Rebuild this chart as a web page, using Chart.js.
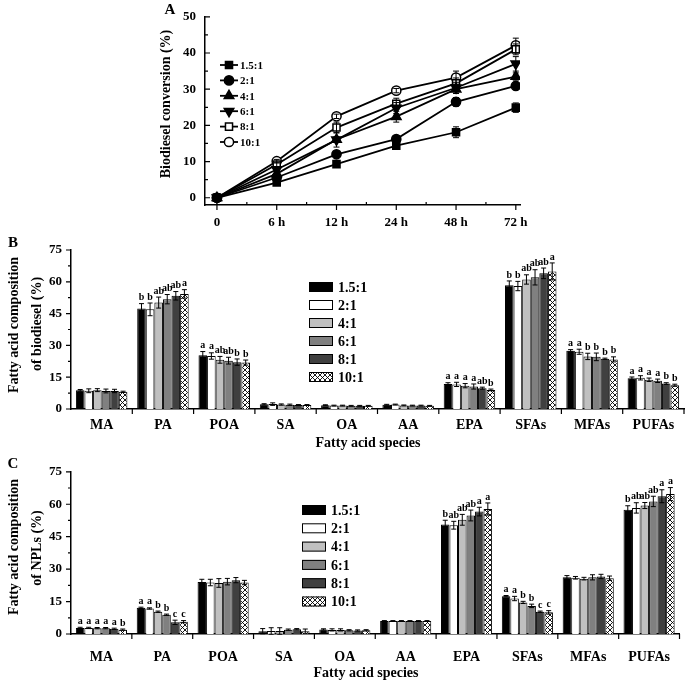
<!DOCTYPE html>
<html>
<head>
<meta charset="utf-8">
<script src="https://cdn.jsdelivr.net/npm/chart.js@4.4.0/dist/chart.umd.min.js"></script>
<style>
  html, body { margin: 0; padding: 0; background: #fff; }
  #wrap { position: relative; width: 685px; height: 680px; }
  canvas { position: absolute; left: 0; }
</style>
</head>
<body>
<div id="wrap">
  <canvas id="chartA" width="685" height="235" style="top:0px"></canvas>
  <canvas id="chartB" width="685" height="230" style="top:225px"></canvas>
  <canvas id="chartC" width="685" height="225" style="top:455px"></canvas>
</div>
<script>
// molar ratios (series)
const ratios = ['1.5:1', '2:1', '4:1', '6:1', '8:1', '10:1'];

// ---- panel A: biodiesel conversion (%) vs time ----
const times = ['0', '6 h', '12 h', '24 h', '48 h', '72 h'];
const convR15 = [0, 4.2, 9.3, 14.4, 18.1, 24.9];
const convR2 = [0, 5.6, 12.0, 16.2, 26.5, 30.9];
const convR4 = [0, 6.6, 16.1, 22.4, 30.0, 33.5];
const convR6 = [0, 7.8, 16.0, 24.8, 30.4, 37.0];
const convR8 = [0, 9.2, 19.4, 26.0, 31.6, 41.0];
const convR10 = [0, 10.1, 22.5, 29.6, 33.2, 42.1];
const convErrR15 = [0, 0.3, 0.5, 0.8, 1.5, 1.3];
const convErrR2 = [0, 0.5, 0.6, 0.8, 1.2, 1.0];
const convErrR4 = [0, 0.6, 0.8, 1.5, 1.2, 1.0];
const convErrR6 = [0, 0.5, 2.0, 1.5, 1.5, 2.0];
const convErrR8 = [0, 0.6, 1.5, 1.5, 1.5, 1.5];
const convErrR10 = [0, 0.5, 0.6, 0.6, 1.8, 2.0];
const convTicks = [0, 10, 20, 30, 40, 50];
const convMinorTicks = [5, 15, 25, 35, 45];
const timeMinorTicks = [0.5, 1.5, 2.5, 3.5, 4.5];

// ---- panels B and C: fatty acid composition (%) ----
const species = ['MA', 'PA', 'POA', 'SA', 'OA', 'AA', 'EPA', 'SFAs', 'MFAs', 'PUFAs'];

const bioR15 = [8.8, 47.4, 25.3, 2.2, 1.8, 2.0, 11.8, 58.4, 27.5, 14.5];
const bioR2 = [8.6, 47.0, 25.0, 2.3, 1.6, 2.1, 11.6, 58.0, 27.0, 14.7];
const bioR4 = [8.9, 50.2, 23.2, 2.1, 1.6, 1.7, 11.0, 61.1, 24.8, 13.8];
const bioR6 = [8.5, 51.8, 22.8, 2.0, 1.5, 1.6, 10.6, 62.1, 24.6, 13.3];
const bioR8 = [8.5, 53.4, 22.1, 1.9, 1.5, 1.6, 9.8, 64.0, 23.7, 12.0];
const bioR10 = [8.1, 54.3, 21.9, 1.9, 1.5, 1.5, 9.0, 64.9, 23.4, 11.2];
const bioErrR15 = [0.4, 2.3, 1.8, 0.3, 0.2, 0.2, 0.6, 2.0, 0.5, 0.6];
const bioErrR2 = [0.9, 3.0, 1.5, 0.6, 0.2, 0.2, 1.0, 2.2, 1.2, 1.0];
const bioErrR4 = [0.7, 2.6, 1.6, 0.3, 0.2, 0.2, 1.0, 2.2, 1.5, 0.8];
const bioErrR6 = [0.9, 2.2, 1.6, 0.3, 0.2, 0.2, 1.2, 3.6, 1.8, 0.8];
const bioErrR8 = [0.8, 2.0, 1.5, 0.2, 0.2, 0.2, 0.5, 2.5, 0.3, 0.4];
const bioErrR10 = [0.3, 2.0, 1.2, 0.2, 0.2, 0.2, 0.4, 4.0, 1.2, 0.5];
const bioSigR15 = ['', 'b', 'a', '', '', '', 'a', 'b', 'a', 'a'];
const bioSigR2 = ['', 'b', 'a', '', '', '', 'a', 'b', 'a', 'a'];
const bioSigR4 = ['', 'ab', 'ab', '', '', '', 'a', 'ab', 'b', 'a'];
const bioSigR6 = ['', 'ab', 'ab', '', '', '', 'a', 'ab', 'b', 'a'];
const bioSigR8 = ['', 'ab', 'b', '', '', '', 'ab', 'ab', 'b', 'b'];
const bioSigR10 = ['', 'a', 'b', '', '', '', 'b', 'a', 'b', 'b'];

const nplR15 = [2.8, 12.1, 24.1, 1.3, 2.1, 6.0, 50.6, 17.5, 26.2, 57.5];
const nplR2 = [2.8, 11.8, 23.8, 1.4, 1.9, 6.0, 50.3, 16.4, 26.0, 58.3];
const nplR4 = [2.7, 10.3, 23.6, 1.4, 1.9, 6.0, 52.8, 14.6, 25.6, 59.4];
const nplR6 = [2.7, 8.9, 24.2, 2.0, 1.7, 6.0, 54.8, 13.0, 26.2, 61.3];
const nplR8 = [2.4, 5.4, 24.9, 2.2, 1.6, 6.0, 56.6, 10.3, 26.6, 63.7];
const nplR10 = [2.0, 5.7, 23.8, 1.3, 1.7, 6.0, 57.8, 10.0, 25.8, 64.7];
const nplErrR15 = [0.3, 0.3, 1.2, 1.2, 0.3, 0.2, 2.0, 0.3, 0.8, 1.8];
const nplErrR2 = [0.3, 0.3, 1.5, 1.5, 0.5, 0.2, 1.8, 1.0, 0.6, 2.4];
const nplErrR4 = [0.3, 0.3, 2.0, 1.5, 0.5, 0.2, 2.5, 0.5, 0.6, 1.4];
const nplErrR6 = [0.3, 0.3, 1.5, 0.3, 0.3, 0.2, 2.5, 0.8, 1.2, 2.4];
const nplErrR8 = [0.3, 1.0, 1.2, 0.3, 0.3, 0.2, 2.0, 0.3, 1.0, 3.0];
const nplErrR10 = [0.3, 0.5, 1.0, 1.0, 0.3, 0.2, 2.8, 0.8, 1.0, 3.0];
const nplSigR15 = ['a', 'a', '', '', '', '', 'b', 'a', '', 'b'];
const nplSigR2 = ['a', 'a', '', '', '', '', 'ab', 'a', '', 'ab'];
const nplSigR4 = ['a', 'b', '', '', '', '', 'ab', 'b', '', 'ab'];
const nplSigR6 = ['a', 'b', '', '', '', '', 'ab', 'b', '', 'ab'];
const nplSigR8 = ['a', 'c', '', '', '', '', 'a', 'c', '', 'a'];
const nplSigR10 = ['b', 'c', '', '', '', '', 'a', 'c', '', 'a'];

const compTicks = [0, 15, 30, 45, 60, 75];
const compMinorTicks = [7.5, 22.5, 37.5, 52.5, 67.5];

// ---- styling ----
const serif = '"Liberation Serif", "Times New Roman", serif';
const bold = (size) => ({ family: serif, size: size, weight: 'bold' });

function crossHatch() {
  const c = document.createElement('canvas');
  c.width = 5; c.height = 5;
  const g = c.getContext('2d');
  g.fillStyle = '#fff';
  g.fillRect(0, 0, 5, 5);
  g.strokeStyle = '#000';
  g.lineWidth = 0.9;
  g.beginPath();
  g.moveTo(-1, -1); g.lineTo(6, 6);
  g.moveTo(6, -1); g.lineTo(-1, 6);
  g.stroke();
  return g.createPattern(c, 'repeat');
}
const barFills = ['#000000', '#ffffff', '#c0c0c0', '#808080', '#404040', crossHatch()];

// ---- plugins ----
const errorBars = {
  id: 'errorBars',
  afterDatasetsDraw(chart, args, o) {
    const ctx = chart.ctx, y = chart.scales.y;
    ctx.save();
    ctx.strokeStyle = '#000';
    ctx.lineWidth = 1;
    chart.data.datasets.forEach((ds, i) => {
      const meta = chart.getDatasetMeta(i);
      meta.data.forEach((el, j) => {
        const raw = ds.data[j];
        const v = typeof raw === 'object' ? raw.y : raw;
        const e = ds.errors ? ds.errors[j] : 0;
        const top = y.getPixelForValue(v + e);
        if (e > 0) {
          const bot = y.getPixelForValue(v - e);
          ctx.beginPath();
          ctx.moveTo(el.x, top); ctx.lineTo(el.x, bot);
          ctx.moveTo(el.x - o.cap, top); ctx.lineTo(el.x + o.cap, top);
          ctx.moveTo(el.x - o.cap, bot); ctx.lineTo(el.x + o.cap, bot);
          ctx.stroke();
        }
        if (ds.sig && ds.sig[j]) {
          ctx.fillStyle = '#000';
          ctx.font = 'bold 10px ' + serif;
          ctx.textAlign = 'center';
          ctx.textBaseline = 'bottom';
          ctx.fillText(ds.sig[j], el.x, top - 1);
        }
      });
    });
    ctx.restore();
  }
};

const axisTicks = {
  id: 'axisTicks',
  afterDraw(chart, args, o) {
    const { ctx, chartArea: a, scales: { x, y } } = chart;
    ctx.save();
    ctx.strokeStyle = '#000';
    ctx.lineWidth = 1.2;
    ctx.beginPath();
    o.yMajor.forEach(v => { const p = y.getPixelForValue(v); ctx.moveTo(a.left, p); ctx.lineTo(a.left + o.yDir * 5, p); });
    o.yMinor.forEach(v => { const p = y.getPixelForValue(v); ctx.moveTo(a.left, p); ctx.lineTo(a.left + o.yDir * 3, p); });
    let xs = [], xm = [];
    if (o.categoryBounds) {
      const n = chart.data.labels.length;
      const w = (a.right - a.left) / n;
      for (let i = 1; i <= n; i++) xs.push(a.left + i * w);
    } else {
      xs = o.xMajor.map(v => x.getPixelForValue(v));
      xm = o.xMinor.map(v => x.getPixelForValue(v));
    }
    xs.forEach(p => { ctx.moveTo(p, a.bottom); ctx.lineTo(p, a.bottom + o.xDir * 5); });
    xm.forEach(p => { ctx.moveTo(p, a.bottom); ctx.lineTo(p, a.bottom - o.xDir * 3); });
    ctx.stroke();
    ctx.restore();
  }
};

const boxLegend = {
  id: 'boxLegend',
  afterDraw(chart, args, o) {
    const ctx = chart.ctx;
    ctx.save();
    chart.data.datasets.forEach((ds, i) => {
      const cy = o.y + i * o.dy;
      ctx.fillStyle = ds.backgroundColor;
      ctx.fillRect(o.x, cy - o.h / 2, o.w, o.h);
      ctx.strokeStyle = '#000';
      ctx.lineWidth = 1;
      ctx.strokeRect(o.x + 0.5, cy - o.h / 2 + 0.5, o.w - 1, o.h - 1);
      ctx.fillStyle = '#000';
      ctx.font = 'bold 14px ' + serif;
      ctx.textAlign = 'left';
      ctx.textBaseline = 'middle';
      ctx.fillText(ds.label, o.x + o.w + 5, cy + 1);
    });
    ctx.restore();
  }
};

const lineLegend = {
  id: 'lineLegend',
  afterDraw(chart, args, o) {
    const ctx = chart.ctx;
    ctx.save();
    chart.data.datasets.forEach((ds, i) => {
      const cy = o.y + i * o.dy;
      ctx.strokeStyle = '#000';
      ctx.lineWidth = 1.8;
      ctx.beginPath();
      ctx.moveTo(o.x, cy); ctx.lineTo(o.x + o.w, cy);
      ctx.stroke();
      ctx.fillStyle = ds.pointBackgroundColor;
      ctx.lineWidth = 1.5;
      Chart.helpers.drawPoint(ctx, {
        pointStyle: ds.pointStyle, rotation: ds.pointRotation || 0,
        radius: ds.pointRadius, borderWidth: 1.5
      }, o.x + o.w / 2, cy);
      ctx.fillStyle = '#000';
      ctx.font = 'bold 11px ' + serif;
      ctx.textAlign = 'left';
      ctx.textBaseline = 'middle';
      ctx.fillText(ds.label, o.x + o.w + 2, cy + 1);
    });
    ctx.restore();
  }
};

const texts = {
  id: 'texts',
  afterDraw(chart, args, o) {
    const ctx = chart.ctx;
    ctx.save();
    ctx.fillStyle = '#000';
    ctx.textAlign = 'center';
    ctx.textBaseline = 'middle';
    o.items.forEach(t => {
      ctx.save();
      ctx.translate(t.x, t.y);
      if (t.rot) ctx.rotate(-Math.PI / 2);
      ctx.font = 'bold ' + t.size + 'px ' + serif;
      ctx.fillText(t.text, 0, 0);
      ctx.restore();
    });
    ctx.restore();
  }
};

// ---- panel A ----
const convSeries = [convR15, convR2, convR4, convR6, convR8, convR10];
const convErrs = [convErrR15, convErrR2, convErrR4, convErrR6, convErrR8, convErrR10];
const markers = [
  { style: 'rect', fill: '#000', r: 5, rot: 0 },
  { style: 'circle', fill: '#000', r: 4.6, rot: 0 },
  { style: 'triangle', fill: '#000', r: 5.5, rot: 0 },
  { style: 'triangle', fill: '#000', r: 5.5, rot: 180 },
  { style: 'rect', fill: '#fff', r: 5, rot: 0 },
  { style: 'circle', fill: '#fff', r: 4.6, rot: 0 }
];

new Chart(document.getElementById('chartA'), {
  type: 'line',
  data: {
    datasets: convSeries.map((s, i) => ({
      label: ratios[i],
      data: s.map((v, k) => ({ x: k, y: v })),
      errors: convErrs[i],
      borderColor: '#000',
      borderWidth: 1.8,
      pointStyle: markers[i].style,
      pointRotation: markers[i].rot,
      pointRadius: markers[i].r,
      pointBackgroundColor: markers[i].fill,
      pointBorderColor: '#000',
      pointBorderWidth: 1.5,
      tension: 0
    }))
  },
  options: {
    responsive: false,
    animation: false,
    layout: { padding: { left: 0, top: 13, right: 165, bottom: 0 } },
    plugins: {
      legend: { display: false },
      tooltip: { enabled: false },
      errorBars: { cap: 3 },
      axisTicks: { yMajor: convTicks, yMinor: convMinorTicks, yDir: 1, xMajor: [0, 1, 2, 3, 4, 5], xMinor: timeMinorTicks, xDir: 1 },
      lineLegend: { x: 220, y: 65, dy: 15.4, w: 18 },
      texts: { items: [
        { text: 'A', x: 170, y: 10, size: 15 },
        { text: 'Biodiesel conversion (%)', x: 166, y: 104, size: 14, rot: true }
      ] }
    },
    scales: {
      x: {
        type: 'linear', min: -0.2, max: 5.07,
        afterBuildTicks: s => { s.ticks = times.map((t, i) => ({ value: i })); },
        afterFit: s => { s.height = 30; },
        ticks: { callback: v => times[v], font: bold(13), color: '#000', padding: 10, maxRotation: 0, autoSkip: false },
        grid: { display: false, drawTicks: false },
        border: { color: '#000', width: 1.5 }
      },
      y: {
        min: -2, max: 50,
        afterBuildTicks: s => { s.ticks = convTicks.map(v => ({ value: v })); },
        afterFit: s => { s.width = 205; },
        ticks: { font: bold(13), color: '#000', padding: 9 },
        grid: { display: false, drawTicks: false },
        border: { color: '#000', width: 1.5 }
      }
    }
  },
  plugins: [errorBars, axisTicks, lineLegend, texts]
});

// ---- panels B and C ----
function compChart(id, series, errs, sigs, top, bottom, h, labelPad, legend, items) {
  return new Chart(document.getElementById(id), {
    type: 'bar',
    data: {
      labels: species,
      datasets: series.map((s, i) => ({
        label: ratios[i],
        data: s,
        errors: errs[i],
        sig: sigs[i],
        backgroundColor: barFills[i],
        borderColor: '#000',
        borderWidth: 1,
        categoryPercentage: 0.84,
        barPercentage: 1.0
      }))
    },
    options: {
      responsive: false,
      animation: false,
      layout: { padding: { left: 0, top: top, right: 1, bottom: 0 } },
      plugins: {
        legend: { display: false },
        tooltip: { enabled: false },
        errorBars: { cap: 2.5 },
        axisTicks: { yMajor: compTicks, yMinor: compMinorTicks, yDir: -1, categoryBounds: true, xDir: 1 },
        boxLegend: legend,
        texts: { items: items }
      },
      scales: {
        x: {
          afterFit: s => { s.height = h - bottom; },
          ticks: { font: bold(14), color: '#000', padding: labelPad, maxRotation: 0, autoSkip: false },
          grid: { display: false, drawTicks: false },
          border: { color: '#000', width: 1.5 }
        },
        y: {
          min: 0, max: 75,
          afterBuildTicks: s => { s.ticks = compTicks.map(v => ({ value: v })); },
          afterFit: s => { s.width = 71; },
          ticks: { font: bold(13), color: '#000', padding: 9 },
          grid: { display: false, drawTicks: false },
          border: { color: '#000', width: 1.5 }
        }
      }
    },
    plugins: [errorBars, axisTicks, boxLegend, texts]
  });
}

compChart('chartB',
  [bioR15, bioR2, bioR4, bioR6, bioR8, bioR10],
  [bioErrR15, bioErrR2, bioErrR4, bioErrR6, bioErrR8, bioErrR10],
  [bioSigR15, bioSigR2, bioSigR4, bioSigR6, bioSigR8, bioSigR10],
  25, 184, 230, 8,
  { x: 309, y: 62, dy: 18, w: 24, h: 10 },
  [
    { text: 'B', x: 13, y: 18, size: 15 },
    { text: 'Fatty acid composition', x: 14, y: 100, size: 14, rot: true },
    { text: 'of biodiesel (%)', x: 37, y: 99, size: 14, rot: true },
    { text: 'Fatty acid species', x: 368, y: 218, size: 14 }
  ]);

compChart('chartC',
  [nplR15, nplR2, nplR4, nplR6, nplR8, nplR10],
  [nplErrR15, nplErrR2, nplErrR4, nplErrR6, nplErrR8, nplErrR10],
  [nplSigR15, nplSigR2, nplSigR4, nplSigR6, nplSigR8, nplSigR10],
  16, 179, 225, 15,
  { x: 302, y: 55, dy: 18.3, w: 24, h: 10 },
  [
    { text: 'C', x: 13, y: 9, size: 15 },
    { text: 'Fatty acid composition', x: 14, y: 92, size: 14, rot: true },
    { text: 'of NPLs (%)', x: 37, y: 93, size: 14, rot: true },
    { text: 'Fatty acid species', x: 366, y: 218, size: 14 }
  ]);
</script>
</body>
</html>
